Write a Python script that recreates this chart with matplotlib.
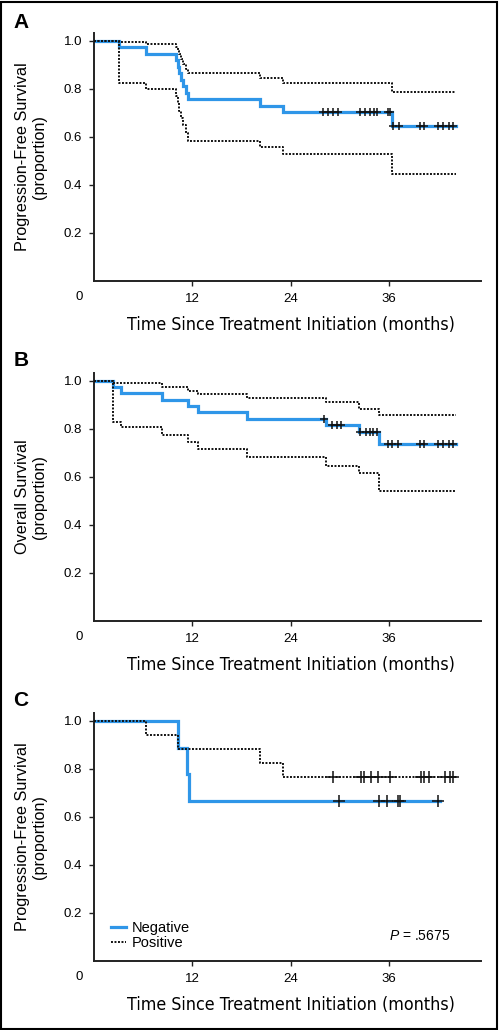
import matplotlib.pyplot as plt
import numpy as np
from matplotlib.patches import Rectangle
from matplotlib.lines import Line2D
from matplotlib import font_manager

plt.rcParams['font.family'] = ['Liberation Sans', 'DejaVu Sans']
plt.rcParams['mathtext.fontset'] = 'custom'
plt.rcParams['mathtext.it'] = 'Liberation Sans:italic'
plt.rcParams['mathtext.rm'] = 'Liberation Sans'

# panel A: progression-free survival, all patients
pfs_t = [0, 3.1, 6.4, 10.0, 10.2, 10.4, 10.6, 10.8, 11.2, 11.5, 20.3, 23.0, 36.4]
pfs_s = [1.0, 0.973, 0.946, 0.919, 0.892, 0.865, 0.838, 0.811, 0.784, 0.757, 0.730, 0.703, 0.644]
pfs_hi = [1.0, 0.995, 0.987, 0.975, 0.960, 0.945, 0.925, 0.905, 0.885, 0.868, 0.847, 0.826, 0.789]
pfs_lo = [1.0, 0.824, 0.800, 0.770, 0.740, 0.710, 0.680, 0.650, 0.615, 0.585, 0.560, 0.528, 0.446]
pfs_cens = [27.9, 28.6, 29.2, 29.7, 32.5, 33.0, 33.7, 34.1, 34.5, 35.8, 36.1,
            36.5, 37.2, 39.7, 40.3, 42.0, 42.6, 43.3, 43.8]
pfs_end = 44.1

# panel B: overall survival, all patients
os_t = [0, 2.3, 3.3, 8.3, 11.5, 12.7, 18.7, 28.3, 32.3, 34.7]
os_s = [1.0, 0.974, 0.949, 0.921, 0.896, 0.869, 0.843, 0.817, 0.786, 0.736]
os_hi = [1.0, 0.992, 0.990, 0.974, 0.960, 0.946, 0.928, 0.911, 0.883, 0.857]
os_lo = [1.0, 0.830, 0.806, 0.775, 0.744, 0.715, 0.683, 0.647, 0.615, 0.542]
os_cens = [28.0, 29.0, 29.6, 30.1, 32.5, 33.2, 33.7, 34.0, 34.5, 35.8, 36.3, 37.1,
           39.7, 40.3, 42.0, 42.6, 43.3, 43.8]
os_end = 44.1

# panel C: progression-free survival by group
neg_t = [0, 10.2, 11.3, 11.6]
neg_s = [1.0, 0.889, 0.778, 0.667]
neg_cens = [29.9, 34.8, 35.7, 37.1, 37.3, 42.0]
neg_end = 42.2
pos_t = [0, 6.4, 10.3, 20.3, 23.0]
pos_s = [1.0, 0.941, 0.882, 0.824, 0.765]
pos_cens = [29.1, 32.6, 32.9, 33.8, 34.6, 36.1, 39.9, 40.2, 40.8, 42.8, 43.4, 43.8]
pos_end = 44.4

BLUE = '#2f96e8'
DOT = (0, (1, 0.8))
W, H = 500, 1030

# narrow font for the x label if one is installed, else shrink the regular one
fl = font_manager.fontManager.ttflist
if any(f.name == 'Liberation Sans Narrow' for f in fl):
	XL = dict(family='Liberation Sans Narrow', fontsize=15)
elif any(f.name == 'DejaVu Sans' and f.stretch == 'condensed' for f in fl):
	XL = dict(family='DejaVu Sans', fontstretch='condensed', fontsize=12.8)
else:
	XL = dict(family='Liberation Sans', fontsize=13)


def km(ax, t, s, end, cens=None, blue=True, ms=6, z=2):
	tt = list(t) + [end]
	ss = list(s) + [s[-1]]
	if blue:
		ax.step(tt, ss, where='post', color=BLUE, lw=2.3, zorder=z, solid_joinstyle='miter')
	else:
		ax.step(tt, ss, where='post', color='#111111', lw=1.4, ls=DOT, zorder=z)
	if cens is not None:
		idx = np.searchsorted(t, cens, side='right') - 1
		ax.plot(cens, np.array(s)[idx], ls='none', marker='+', color='#111111',
		        ms=ms, mew=1.1, zorder=5)


def frame(ax, ylab, letter, ylab_y):
	ax.set_xlim(0, 47.2)
	ax.set_ylim(0, 1.033)
	for sp in ['top', 'right']:
		ax.spines[sp].set_visible(False)
	for sp in ['left', 'bottom']:
		ax.spines[sp].set_linewidth(1.4)
		ax.spines[sp].set_color('#222222')
	ax.set_xticks([12, 24, 36])
	ax.set_yticks([0.2, 0.4, 0.6, 0.8, 1.0])
	ax.set_yticklabels(['0.2', '0.4', '0.6', '0.8', '1.0'])
	ax.tick_params(labelsize=9.5, length=3.5, width=1, color='#222222', pad=5)
	ax.text(-0.037, -0.065, '0', transform=ax.transAxes, fontsize=9.5, ha='center', va='center')
	ax.set_xlabel('Time Since Treatment Initiation (months)', **XL)
	ax.xaxis.set_label_coords(0.509, -0.14)
	fig.text(31 / W, 1 - ylab_y / H, ylab, rotation=90, ha='center', va='center',
	         fontsize=11.7, linespacing=1.1, multialignment='center')
	fig.text(21 / W, 1 - letter[1] / H, letter[0], fontsize=15, fontweight='bold',
	         ha='center', va='center')


fig = plt.figure(figsize=(W / 100, H / 100), dpi=100)
L, Wd, Ht = 94 / W, 387 / W, 248 / H
axA = fig.add_axes([L, 1 - 281 / H, Wd, Ht])
axB = fig.add_axes([L, 1 - 621 / H, Wd, Ht])
axC = fig.add_axes([L, 1 - 961 / H, Wd, Ht])

km(axA, pfs_t, pfs_s, pfs_end, pfs_cens)
km(axA, pfs_t, pfs_hi, pfs_end, blue=False, z=3)
km(axA, pfs_t, pfs_lo, pfs_end, blue=False, z=3)
frame(axA, 'Progression-Free Survival\n(proportion)', ('A', 22), 157)

km(axB, os_t, os_s, os_end, os_cens)
km(axB, os_t, os_hi, os_end, blue=False, z=3)
km(axB, os_t, os_lo, os_end, blue=False, z=3)
frame(axB, 'Overall Survival\n(proportion)', ('B', 361), 497)

km(axC, neg_t, neg_s, neg_end, neg_cens, ms=8)
km(axC, pos_t, pos_s, pos_end, pos_cens, blue=False, ms=8, z=3)
frame(axC, 'Progression-Free Survival\n(proportion)', ('C', 700), 837)
hs = [Line2D([], [], color=BLUE, lw=2.3), Line2D([], [], color='#111111', lw=1.4, ls=DOT)]
axC.legend(hs, ['Negative', 'Positive'], loc='lower left', bbox_to_anchor=(0.03, 0.02),
           frameon=False, fontsize=10.5, handlelength=1.0, handletextpad=0.4,
           labelspacing=0.05, borderaxespad=0)
axC.text(0.92, 0.10, r'$\it{P}$ = .5675', transform=axC.transAxes, ha='right', va='center', fontsize=10)

fig.patches.append(Rectangle((1 / W, 1.5 / H), 496 / W, 1027 / H, transform=fig.transFigure,
                             fill=False, lw=1.5, edgecolor='black'))
fig.savefig('out.png', dpi=100)
